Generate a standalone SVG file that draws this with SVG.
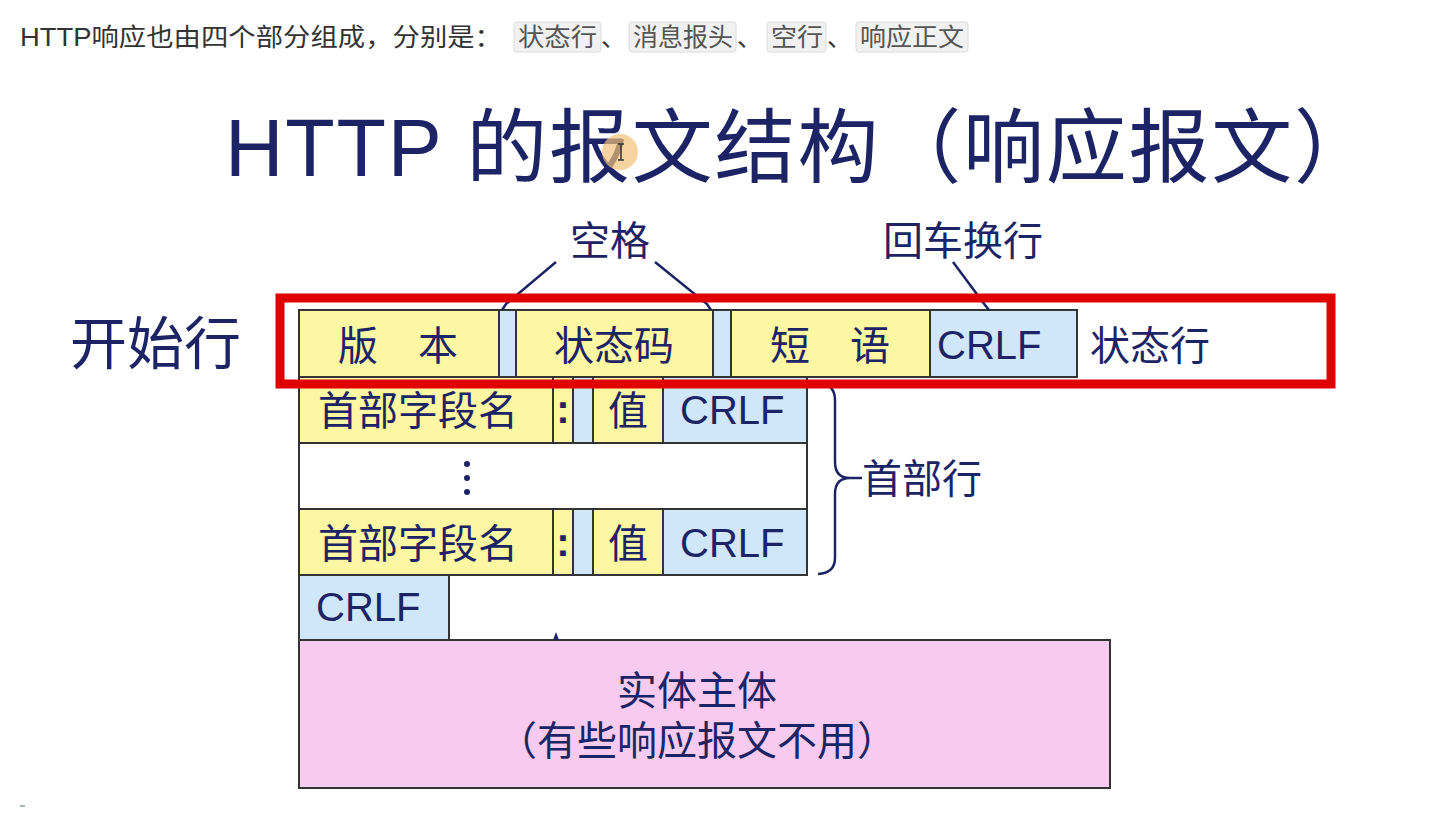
<svg xmlns="http://www.w3.org/2000/svg" width="1435" height="838" viewBox="0 0 1435 838">
<style>
.t{font-family:"Liberation Sans","Noto Sans CJK SC",sans-serif;fill:#1c2466}
.c{text-anchor:middle}
.y{fill:#fbf7a2;stroke:#333;stroke-width:2}
.b{fill:#cfe7f8;stroke:#333;stroke-width:2}
.w{fill:#fff;stroke:#333;stroke-width:2}
.p{fill:#f6cbef;stroke:#333;stroke-width:2}
.tag{fill:#f1f1f1;stroke:#dcdcdc;stroke-width:1}
.top{font-family:"Liberation Sans","Noto Sans CJK SC",sans-serif;font-size:25px;fill:#333}
.tg{fill:#555}
.ln{fill:none;stroke:#1c2466;stroke-width:2.5}
</style>
<rect width="1435" height="838" fill="#fff"/>
<g id="intro">
<rect class="tag" x="514" y="22" width="87" height="30" rx="3"/>
<rect class="tag" x="629" y="22" width="107" height="30" rx="3"/>
<rect class="tag" x="767" y="22" width="59" height="30" rx="3"/>
<rect class="tag" x="856" y="22" width="112" height="30" rx="3"/>
<text class="top" x="20" y="46" textLength="482" lengthAdjust="spacingAndGlyphs">HTTP响应也由四个部分组成，分别是：</text>
<text class="top tg" x="518" y="46" textLength="79" lengthAdjust="spacingAndGlyphs">状态行</text>
<text class="top" x="601" y="46">、</text>
<text class="top tg" x="633" y="46" textLength="100" lengthAdjust="spacingAndGlyphs">消息报头</text>
<text class="top" x="737" y="46">、</text>
<text class="top tg" x="771" y="46" textLength="52" lengthAdjust="spacingAndGlyphs">空行</text>
<text class="top" x="827" y="46">、</text>
<text class="top tg" x="860" y="46" textLength="104" lengthAdjust="spacingAndGlyphs">响应正文</text>
</g>
<g id="title">
<text class="t" x="225" y="176" font-size="81" fill="#1b2a7b" textLength="1150" lengthAdjust="spacing">HTTP 的报文结构（响应报文）</text>
<circle cx="620" cy="152" r="18" fill="#f3c07a" opacity="0.7"/>
<path d="M618 144h6M621 144v16M618 160h6" stroke="#333" stroke-width="1.5" fill="none"/>
</g>
<g id="start-label"><text class="t" x="70" y="364" font-size="57">开始行</text></g>
<g id="status-line">
<rect class="y" x="299" y="310" width="200" height="67"/>
<rect class="b" x="499" y="310" width="17" height="67"/>
<rect class="y" x="516" y="310" width="197" height="67"/>
<rect class="b" x="713" y="310" width="18" height="67"/>
<rect class="y" x="731" y="310" width="199" height="67"/>
<rect class="b" x="930" y="310" width="147" height="67"/>
<text class="t c" x="398" y="360" font-size="40">版　本</text>
<text class="t c" x="614" y="360" font-size="40">状态码</text>
<text class="t c" x="830" y="360" font-size="40">短　语</text>
<text class="t" x="937" y="359" font-size="40">CRLF</text>
<text class="t" x="1090" y="360" font-size="40">状态行</text>
</g>
<g id="header-row-1">
<rect class="y" x="299" y="377" width="254" height="66"/>
<rect class="y" x="553" y="377" width="20" height="66"/>
<rect class="b" x="573" y="377" width="20" height="66"/>
<rect class="y" x="593" y="377" width="70" height="66"/>
<rect class="b" x="663" y="377" width="144" height="66"/>
<text class="t c" x="418" y="425" font-size="40">首部字段名</text>
<text class="t c" x="563" y="423" font-size="40" font-weight="bold">:</text>
<text class="t c" x="628" y="425" font-size="40">值</text>
<text class="t" x="680" y="424" font-size="40">CRLF</text>
</g>
<g id="header-dots">
<rect class="w" x="299" y="443" width="508" height="66"/>
<circle cx="467" cy="464" r="3" fill="#1c2466"/>
<circle cx="467" cy="478" r="3" fill="#1c2466"/>
<circle cx="467" cy="492" r="3" fill="#1c2466"/>
</g>
<g id="header-row-2">
<rect class="y" x="299" y="509" width="254" height="66"/>
<rect class="y" x="553" y="509" width="20" height="66"/>
<rect class="b" x="573" y="509" width="20" height="66"/>
<rect class="y" x="593" y="509" width="70" height="66"/>
<rect class="b" x="663" y="509" width="144" height="66"/>
<text class="t c" x="418" y="558" font-size="40">首部字段名</text>
<text class="t c" x="563" y="556" font-size="40" font-weight="bold">:</text>
<text class="t c" x="628" y="558" font-size="40">值</text>
<text class="t" x="680" y="557" font-size="40">CRLF</text>
</g>
<g id="blank-line">
<rect class="b" x="299" y="575" width="150" height="65"/>
<text class="t" x="316" y="621" font-size="40">CRLF</text>
</g>
<g id="body">
<rect class="p" x="299" y="640" width="811" height="148"/>
<text class="t c" x="697" y="705" font-size="40">实体主体</text>
<text class="t c" x="697" y="755" font-size="40">（有些响应报文不用）</text>
</g>
<g id="labels">
<text class="t c" x="610" y="255" font-size="40">空格</text>
<text class="t c" x="963" y="255" font-size="40">回车换行</text>
<text class="t" x="862" y="493" font-size="40">首部行</text>
</g>
<g id="connectors">
<path class="ln" d="M556 262L506 304L502 310"/>
<path class="ln" d="M655 262L707 304L711 310"/>
<path class="ln" d="M953 262L985 305L989 310"/>
<path class="ln" d="M820 383Q835 385 835 400V462Q835 478 850 478H862M850 478Q835 478 835 494V558Q835 573 818 574"/>
<path d="M553 640L556 632L559 640Z" fill="#1c2466"/>
</g>
<g id="highlight">
<rect x="280" y="298" width="1051" height="86" fill="none" stroke="#e00000" stroke-width="9"/>
</g>
<g id="misc"><path d="M20 806h5" stroke="#8a9aa8" stroke-width="1.5"/></g>
</svg>
